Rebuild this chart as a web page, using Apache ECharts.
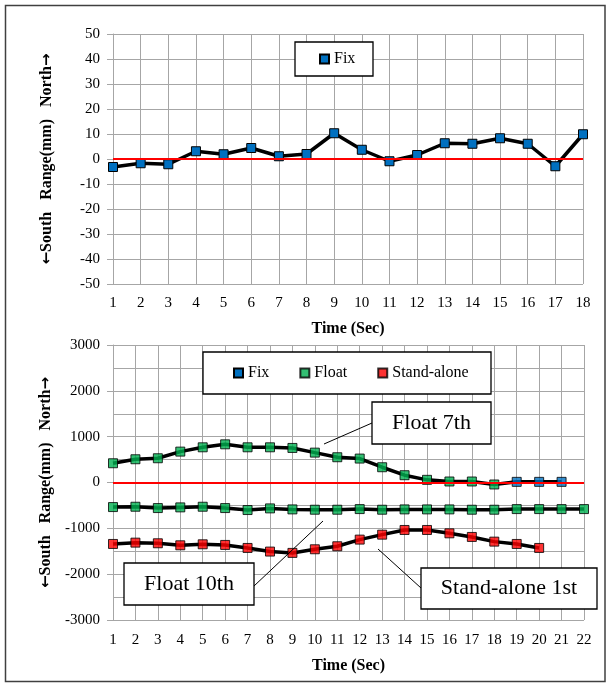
<!DOCTYPE html>
<html>
<head>
<meta charset="utf-8">
<script src="https://cdn.jsdelivr.net/npm/echarts@6/dist/echarts.min.js"></script>
<style>html,body{margin:0;padding:0;background:#fff;}#c{width:606px;height:684px;}</style>
</head>
<body>
<div id="c"></div>
<script>
// ---- data ----
const topCategories = ['1','2','3','4','5','6','7','8','9','10','11','12','13','14','15','16','17','18'];
const topFix = [-3.2,-1.7,-2.1,3.1,1.9,4.4,1.1,2.0,10.3,3.7,-0.9,1.6,6.3,6.1,8.3,6.1,-2.9,9.9];
const topYTicks = {min:-50, max:50, interval:10};

const bottomCategories = ['1','2','3','4','5','6','7','8','9','10','11','12','13','14','15','16','17','18','19','20','21','22'];
const float7 = [420,507,529,674,768,833,768,768,754,652,551,522,333,159,58,22,22,-43];   // seconds 1-18
const fix7 = [14,14,14];                                                                  // seconds 19-21
const float10 = [-536,-529,-558,-543,-529,-558,-601,-565,-587,-594,-594,-580,-594,-587,-587,-587,-594,-594,-580,-580,-580,-580];
const standAlone = [-1341,-1312,-1326,-1370,-1348,-1362,-1428,-1507,-1536,-1457,-1391,-1246,-1138,-1036,-1036,-1109,-1188,-1290,-1341,-1428];
const bottomYTicks = {min:-3000, max:3000, interval:1000};

const annotations = ['Float 7th', 'Float 10th', 'Stand-alone 1st'];
const legendTop = ['Fix'];
const legendBottom = ['Fix', 'Float', 'Stand-alone'];

// ---- styles ----
const BLUE = '#0070C0', GREEN = '#00B050', RED = '#FF0000';
const FONT = '"Liberation Serif", "Times New Roman", serif';
const GRIDC = '#a6a6a6';
const yName = '{a|\u2190}South   Range(mm)   North{a|\u2192}';

function xAxisCfg(idx, cats, margin) {
  return {
    type:'category', gridIndex: idx, data: cats, boundaryGap:false,
    axisLine:{show:true, lineStyle:{color:GRIDC, width:1}},
    axisTick:{show:false},
    axisLabel:{color:'#000', fontFamily:FONT, fontSize:15, margin:margin, interval:0},
    splitLine:{show:true, lineStyle:{color:GRIDC, width:1}},
    name:'Time (Sec)', nameLocation:'middle', nameGap: idx===0 ? 37 : 38,
    nameTextStyle:{color:'#000', fontFamily:FONT, fontSize:16, fontWeight:'bold'}
  };
}
function yAxisCfg(idx, t, minor) {
  const c = {
    type:'value', gridIndex: idx, min:t.min, max:t.max, interval:t.interval,
    axisLine:{show:true, lineStyle:{color:GRIDC, width:1}},
    axisTick:{show:true, length:6, lineStyle:{color:GRIDC}},
    axisLabel:{color:'#000', fontFamily:FONT, fontSize:15, margin:13, formatter:(v)=>String(v)},
    splitLine:{show:true, lineStyle:{color:GRIDC, width:1}},
    name:yName, nameLocation:'middle', nameRotate:90, nameGap:58,
    nameTextStyle:{color:'#000', fontFamily:FONT, fontSize:16, fontWeight:'bold',
      rich:{a:{fontFamily:'"DejaVu Sans"', fontSize:15, color:'#000'}}}
  };
  if (minor) {
    c.minorTick = {show:false, splitNumber:2};
    c.minorSplitLine = {show:true, lineStyle:{color:GRIDC, width:1}};
  }
  return c;
}
const zeroLine = {
  silent:true, symbol:'none', label:{show:false},
  lineStyle:{color:RED, width:2, type:'solid'},
  data:[{yAxis:0}]
};
const mk = (color) => ({color:color, borderColor:'#000', borderWidth:1});

const series = [
  // top chart
  {
    name:'Fix', type:'line', xAxisIndex:0, yAxisIndex:0, data: topFix,
    symbol:'rect', symbolSize:9, showAllSymbol:true,
    lineStyle:{color:'#000', width:3.5}, itemStyle: mk(BLUE), z:3,
    markLine: zeroLine
  },
  // bottom chart: black tracks
  {
    name:'track7', type:'line', xAxisIndex:1, yAxisIndex:1, data: float7.concat(fix7),
    showSymbol:false, symbol:'none', lineStyle:{color:'#000', width:3.5}, z:2,
    markLine: zeroLine
  },
  {
    name:'track10', type:'line', xAxisIndex:1, yAxisIndex:1, data: float10,
    showSymbol:false, symbol:'none', lineStyle:{color:'#000', width:3.5}, z:2
  },
  {
    name:'trackSA', type:'line', xAxisIndex:1, yAxisIndex:1, data: standAlone,
    showSymbol:false, symbol:'none', lineStyle:{color:'#000', width:3.5}, z:2
  },
  // bottom chart: markers
  {
    name:'Fix', type:'scatter', xAxisIndex:1, yAxisIndex:1,
    data: fix7.map((v,i)=>[float7.length + i, v]),
    symbol:'rect', symbolSize:9, itemStyle: mk(BLUE), z:4
  },
  {
    name:'Float', type:'scatter', xAxisIndex:1, yAxisIndex:1,
    data: float7.map((v,i)=>[i, v]).concat(float10.map((v,i)=>[i, v])),
    symbol:'rect', symbolSize:9, itemStyle: mk(GREEN), z:4
  },
  {
    name:'Stand-alone', type:'scatter', xAxisIndex:1, yAxisIndex:1,
    data: standAlone.map((v,i)=>[i, v]),
    symbol:'rect', symbolSize:9, itemStyle: mk(RED), z:4
  }
];

function box(x, y, w, h) {
  return {type:'rect', z:20, shape:{x:x, y:y, width:w, height:h},
    style:{fill:'#fff', stroke:'#000', lineWidth:1.3}};
}
function label(cx, cy, text, size) {
  return {type:'text', z:21, x:cx, y:cy,
    style:{text:text, fill:'#000', font: size + 'px ' + FONT, align:'center', verticalAlign:'middle'}};
}
function seg(x1, y1, x2, y2) {
  return {type:'line', z:21, shape:{x1:x1, y1:y1, x2:x2, y2:y2}, style:{stroke:'#000', lineWidth:1}};
}

const option = {
  animation:false,
  backgroundColor:'#fff',
  grid:[
    {left:113, right:23, top:34, height:250},
    {left:113, right:22, top:345, height:275}
  ],
  xAxis:[xAxisCfg(0, topCategories, 12), xAxisCfg(1, bottomCategories, 13)],
  yAxis:[yAxisCfg(0, topYTicks, false), yAxisCfg(1, bottomYTicks, true)],
  legend:[
    {data: legendTop.map(n=>({name:n, icon:'rect'})), left:319, top:51, padding:0,
     itemWidth:9, itemHeight:9, z:30, selectedMode:false,
     textStyle:{color:'#000', fontFamily:FONT, fontSize:16}},
    {data: legendBottom.map(n=>({name:n, icon:'rect'})), left:233, top:365, padding:0,
     itemWidth:9, itemHeight:9, itemGap:30, z:30, selectedMode:false,
     textStyle:{color:'#000', fontFamily:FONT, fontSize:16}}
  ],
  series: series,
  graphic:[
    // outer frame
    {type:'rect', z:0, silent:true, shape:{x:5.5, y:5.5, width:599.5, height:676},
     style:{fill:null, stroke:'#404040', lineWidth:1.5}},
    // legend boxes
    box(295, 42, 78, 34),
    box(203, 352, 288, 42),
    // callouts
    box(372, 402, 119, 42), label(431.5, 423, annotations[0], 22), seg(324, 444, 372, 423),
    box(124, 563, 130, 42), label(189, 584, annotations[1], 22), seg(254, 586, 323, 521),
    box(421, 568, 176, 41), label(509, 588.5, annotations[2], 22), seg(378, 549, 421, 588)
  ]
};

const chart = echarts.init(document.getElementById('c'), null, {renderer:'canvas'});
chart.setOption(option);
</script>
</body>
</html>
